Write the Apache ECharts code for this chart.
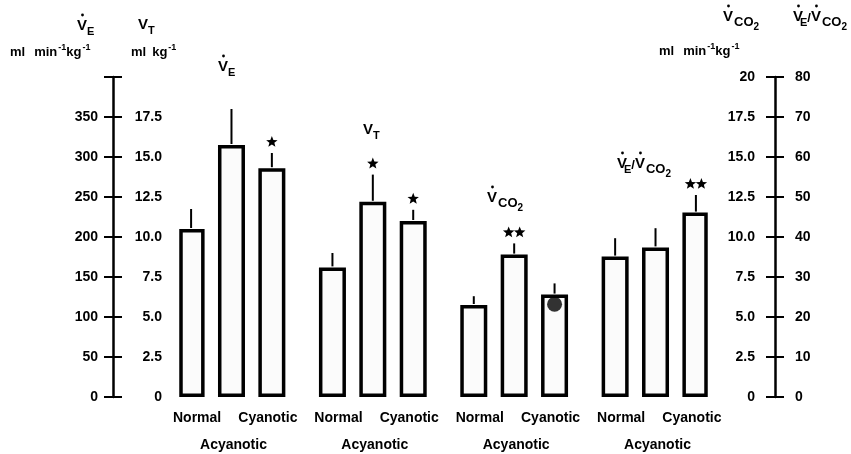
<!DOCTYPE html>
<html><head><meta charset="utf-8">
<script src="https://cdn.jsdelivr.net/npm/echarts@6/dist/echarts.min.js"></script>
<style>html,body{margin:0;padding:0;background:#fff}#c{width:851px;height:454px}</style>
</head><body><div id="c"></div>
<script>
// ---- data ----
const barNames = ['Normal', 'Acyanotic', 'Cyanotic'];
const veMean = [210, 315, 286];
const veSD = [25, 45, 19];
const veMark = ['', '', '*'];
const vtMean = [8.1, 12.2, 11.0];
const vtSD = [0.9, 1.7, 0.7];
const vtMark = ['', '*', '*'];
const vco2Mean = [5.75, 8.9, 6.4];
const vco2SD = [0.55, 0.7, 0.7];
const vco2Mark = ['', '**', ''];
const vco2Dot = [null, null, 5.8];
const ratioMean = [35.1, 37.4, 46.1];
const ratioSD = [4.6, 4.8, 4.4];
const ratioMark = ['', '', '**'];

const FONT = '"Liberation Sans", Arial, Helvetica, sans-serif';
const NSLOT = 26;
const slotOf = (g, j) => 7 * g + 2 * j;
const xCats = Array.from({length: NSLOT}, (_, i) => 'c' + i);
const lab1 = xCats.map(() => ''), lab2 = xCats.map(() => '');
for (let g = 0; g < 4; g++) {
  lab1[slotOf(g, 0)] = '{n|' + barNames[0] + '}';
  lab1[slotOf(g, 2)] = '{c|' + barNames[2] + '}';
  lab2[slotOf(g, 1)] = '{a|' + barNames[1] + '}';
}

function barData(g, means) {
  const d = new Array(NSLOT).fill('-');
  means.forEach((v, j) => d[slotOf(g, j)] = v);
  return d;
}
function star(cx, cy, R, r) {
  const pts = [];
  for (let k = 0; k < 10; k++) {
    const a = -Math.PI / 2 + k * Math.PI / 5;
    const rr = k % 2 === 0 ? R : r;
    pts.push([cx + rr * Math.cos(a), cy + rr * Math.sin(a)]);
  }
  return pts;
}
function errSeries(g, means, sds, marks, yIdx) {
  return {
    type: 'custom', yAxisIndex: yIdx, xAxisIndex: 0, z: 5,
    data: means.map((v, j) => [slotOf(g, j), v, sds[j]]),
    renderItem: function (params, api) {
      const s = api.value(0), m = api.value(1), e = api.value(2);
      const p0 = api.coord([s, m]), p1 = api.coord([s, m + e]);
      const ch = [{type: 'line', shape: {x1: p0[0], y1: p0[1] - 1, x2: p1[0], y2: p1[1]}, style: {stroke: '#000', lineWidth: 2}}];
      const mk = marks[params.dataIndex] || '';
      const n = mk.length;
      for (let k = 0; k < n; k++) {
        const cx = p1[0] + (k - (n - 1) / 2) * 11;
        ch.push({type: 'polygon', shape: {points: star(cx, p1[1] - 11, 6, 2.6)}, style: {fill: '#000'}});
      }
      return {type: 'group', children: ch};
    }
  };
}
function barSeries(g, means, yIdx) {
  return {
    type: 'bar', yAxisIndex: yIdx, xAxisIndex: 0, barWidth: 27, barGap: '-100%',
    data: barData(g, means),
    itemStyle: {color: '#fbfbfb', borderColor: '#000', borderWidth: 3.5},
    emphasis: {disabled: true}, animation: false
  };
}

// ---- text helpers for headers (dotted V, subscripts) ----
const cv = document.createElement('canvas').getContext('2d');
function tw(t, s) { cv.font = 'bold ' + s + 'px ' + FONT; return cv.measureText(t).width; }
function seq(x0, parts) {
  const out = [];
  let x = x0;
  parts.forEach(p => {
    x += (p.dx || 0);
    out.push({type: 'text', x: x, y: p.y, style: {text: p.t, font: 'bold ' + p.s + 'px ' + FONT, fill: '#000', align: 'left', verticalAlign: 'middle'}});
    const w = tw(p.t, p.s);
    if (p.dot) out.push({type: 'circle', shape: {cx: x + w / 2 + 0.5, cy: p.y - p.s * 0.5 - 3.5, r: 1.4}, style: {fill: '#000'}});
    x += w;
  });
  return out;
}
function unitText(x0, y, withMin) {
  const parts = [];
  if (withMin) {
    parts.push({t: 'ml', s: 13, y: y}); parts.push({t: 'min', s: 13, y: y, dx: 9});
    parts.push({t: '-1', s: 9, y: y - 4, dx: 1}); parts.push({t: 'kg', s: 13, y: y}); parts.push({t: '-1', s: 9, y: y - 4, dx: 1});
  } else {
    parts.push({t: 'ml', s: 13, y: y}); parts.push({t: 'kg', s: 13, y: y, dx: 6}); parts.push({t: '-1', s: 9, y: y - 4, dx: 1});
  }
  return seq(x0, parts);
}
const graphics = [].concat(
  seq(77, [{t: 'V', s: 15, y: 26, dot: true}, {t: 'E', s: 11, y: 32, dx: 0}]),
  unitText(10, 52, true),
  seq(138, [{t: 'V', s: 15, y: 25}, {t: 'T', s: 11, y: 31}]),
  unitText(131, 52, false),
  seq(723, [{t: 'V', s: 15, y: 17, dot: true}, {t: 'CO', s: 13, y: 22, dx: 1}, {t: '2', s: 10, y: 27}]),
  seq(793, [{t: 'V', s: 15, y: 17, dot: true}, {t: 'E', s: 11, y: 23, dx: -3}, {t: '/', s: 13, y: 18}, {t: 'V', s: 15, y: 17, dot: true}, {t: 'CO', s: 13, y: 22, dx: 1}, {t: '2', s: 10, y: 27}]),
  unitText(659, 51, true),
  // group titles
  seq(218, [{t: 'V', s: 15, y: 67, dot: true}, {t: 'E', s: 11, y: 73}]),
  seq(363, [{t: 'V', s: 15, y: 130}, {t: 'T', s: 11, y: 136}]),
  seq(487, [{t: 'V', s: 15, y: 198, dot: true}, {t: 'CO', s: 13, y: 203, dx: 1}, {t: '2', s: 10, y: 208}]),
  seq(617, [{t: 'V', s: 15, y: 164, dot: true}, {t: 'E', s: 11, y: 170, dx: -3}, {t: '/', s: 13, y: 165}, {t: 'V', s: 15, y: 164, dot: true}, {t: 'CO', s: 13, y: 169, dx: 1}, {t: '2', s: 10, y: 174}])
);

const lbl = {color: '#000', fontFamily: FONT, fontWeight: 'bold', fontSize: 14};
const richX = {
  n: {color: '#000', fontFamily: FONT, fontWeight: 'bold', fontSize: 14, padding: [0, 0, 0, 12]},
  c: {color: '#000', fontFamily: FONT, fontWeight: 'bold', fontSize: 14, padding: [0, 8, 0, 0]},
  a: {color: '#000', fontFamily: FONT, fontWeight: 'bold', fontSize: 14, padding: [0, 0, 0, 4]}
};
const blackLine = {color: '#000', width: 2.5};
const tickLine = {color: '#000', width: 2};
const fmt1 = v => v === 0 ? '0' : v.toFixed(1);

const chart = echarts.init(document.getElementById('c'), null, {renderer: 'canvas'});
chart.setOption({
  animation: false,
  backgroundColor: '#fff',
  grid: {left: 181, right: 145, top: 77, bottom: 57, containLabel: false},
  xAxis: [
    {type: 'category', data: xCats, position: 'bottom', axisLine: {show: false}, axisTick: {show: false},
     axisLabel: Object.assign({interval: 0, margin: 14, formatter: (v, i) => lab1[i], rich: richX}, lbl), splitLine: {show: false}},
    {type: 'category', data: xCats, position: 'bottom', axisLine: {show: false}, axisTick: {show: false},
     axisLabel: Object.assign({interval: 0, margin: 41, formatter: (v, i) => lab2[i], rich: richX}, lbl), splitLine: {show: false}}
  ],
  yAxis: [
    {type: 'value', position: 'left', offset: 68, min: 0, max: 400, interval: 50,
     axisLine: {show: true, lineStyle: blackLine}, axisTick: {show: true, length: 9, lineStyle: tickLine},
     axisLabel: Object.assign({margin: 15, formatter: v => v === 400 ? '' : String(v)}, lbl), splitLine: {show: false}},
    {type: 'value', position: 'left', offset: 68, min: 0, max: 400, interval: 50,
     axisLine: {show: false}, axisTick: {show: true, inside: true, length: 9, lineStyle: tickLine},
     axisLabel: {show: false}, splitLine: {show: false}},
    {type: 'value', position: 'left', offset: 11, min: 0, max: 20, interval: 2.5,
     axisLine: {show: false}, axisTick: {show: false},
     axisLabel: Object.assign({margin: 8, formatter: v => v === 20 ? '' : fmt1(v)}, lbl), splitLine: {show: false}},
    {type: 'value', position: 'right', offset: 69, min: 0, max: 20, interval: 2.5,
     axisLine: {show: true, lineStyle: blackLine}, axisTick: {show: true, length: 9, lineStyle: tickLine},
     axisLabel: Object.assign({inside: true, margin: 20, formatter: v => v === 20 ? '20' : fmt1(v)}, lbl), splitLine: {show: false}},
    {type: 'value', position: 'right', offset: 69, min: 0, max: 80, interval: 10,
     axisLine: {show: false}, axisTick: {show: true, inside: true, length: 9, lineStyle: tickLine},
     axisLabel: Object.assign({margin: 20}, lbl), splitLine: {show: false}}
  ],
  series: [
    barSeries(0, veMean, 0),
    barSeries(1, vtMean, 2),
    barSeries(2, vco2Mean, 3),
    barSeries(3, ratioMean, 4),
    errSeries(0, veMean, veSD, veMark, 0),
    errSeries(1, vtMean, vtSD, vtMark, 2),
    errSeries(2, vco2Mean, vco2SD, vco2Mark, 3),
    errSeries(3, ratioMean, ratioSD, ratioMark, 4),
    {type: 'scatter', yAxisIndex: 3, xAxisIndex: 0, z: 6, symbol: 'circle', symbolSize: 15,
     itemStyle: {color: '#000'}, data: vco2Dot.map((v, j) => v == null ? null : [slotOf(2, j), v]).filter(d => d)}
  ],
  graphic: graphics
});
</script></body></html>
